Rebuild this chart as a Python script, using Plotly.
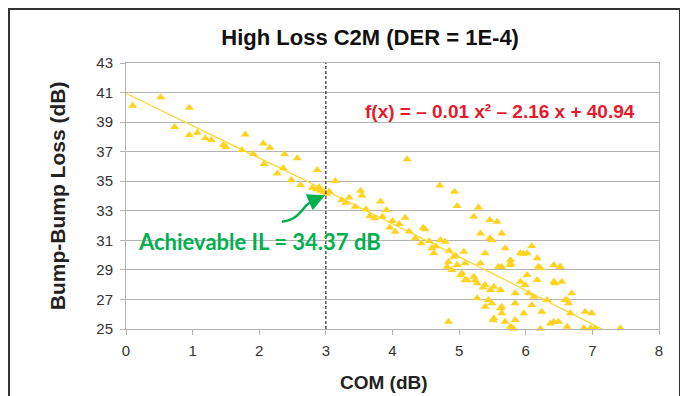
import plotly.graph_objects as go

# ---- data ----
com_db = [
    0.10, 0.52, 0.95, 0.73, 0.95, 1.07, 1.19, 1.28, 1.46, 1.50, 1.79, 1.74, 1.91, 2.06, 2.16, 2.07,
    2.38, 2.57, 2.36, 2.27, 2.48, 2.62, 2.87, 2.80, 2.86, 2.92, 2.97, 3.01, 2.90, 3.05,
    3.14, 3.24, 3.52, 3.54, 3.44, 3.82, 3.91, 3.66, 3.73, 4.19, 3.96, 4.04, 4.46, 4.49, 4.34, 4.43,
    4.59, 4.72, 4.79, 4.62, 4.22, 4.71, 4.93, 4.97,
    3.30, 3.60, 3.85, 4.10, 4.25, 4.55, 4.65, 4.85, 4.95, 3.35, 4.00,
    5.29, 5.22, 5.46, 5.57, 5.32, 5.46, 5.64, 5.49, 5.07, 4.92, 4.84, 4.82, 4.97, 4.89, 5.04, 5.09,
    5.32, 5.39, 5.69, 5.92, 6.02, 6.09, 5.77, 5.77, 5.59, 5.22, 5.27, 5.39, 5.47, 5.52, 5.62, 5.27,
    5.44, 5.49, 5.39, 5.62, 5.64, 5.52, 5.69, 5.77, 5.82, 5.84, 5.84, 5.97, 5.92, 5.99, 6.02, 6.04,
    6.12, 6.17, 6.19, 6.17, 6.22, 6.24, 6.22, 6.37, 6.42, 6.32, 6.42, 6.52, 6.44, 6.54, 6.59, 6.62,
    6.67, 6.69, 6.64, 6.89, 6.99, 6.87, 6.97, 7.04, 7.42, 4.84,
    5.02, 5.12, 5.24, 5.36, 5.64, 5.51, 5.79, 6.09, 6.49, 6.42, 5.96, 6.51, 5.64, 5.09, 5.84, 6.62, 5.77,
]
loss_db = [
    40.11, 40.68, 39.97, 38.67, 38.13, 38.28, 37.90, 37.79, 37.45, 37.31, 38.17, 37.11, 36.84, 37.56, 37.27, 36.16,
    36.82, 36.55, 35.87, 35.53, 35.08, 34.74, 35.76, 34.55, 34.45, 34.35, 34.25, 34.15, 34.60, 34.30,
    35.02, 33.73, 34.35, 34.03, 33.28, 33.63, 33.05, 32.65, 32.49, 32.52, 31.86, 31.58, 31.85, 31.75, 31.14, 30.80,
    30.46, 31.02, 30.91, 30.12, 36.49, 34.71, 34.29, 33.32,
    33.55, 33.10, 32.60, 32.10, 31.60, 30.95, 30.60, 30.30, 29.95, 33.90, 32.30,
    33.23, 32.60, 32.38, 32.26, 31.47, 31.14, 31.47, 31.02, 30.23, 29.89, 29.55, 29.22, 29.33, 28.99, 28.77, 28.32,
    29.45, 30.12, 30.46, 30.12, 30.12, 30.62, 29.67, 29.33, 29.22, 28.54, 28.09, 27.98, 27.64, 27.86, 27.64, 27.08,
    26.96, 26.74, 26.51, 26.40, 26.06, 25.72, 25.49, 25.16, 25.02, 25.61, 26.74, 26.06, 28.20, 27.98, 28.65, 27.42,
    27.19, 28.32, 29.22, 29.78, 29.11, 26.17, 25.02, 25.38, 25.49, 26.96, 29.33, 29.22, 28.09, 28.20, 26.96, 25.16,
    26.06, 27.42, 26.74, 26.17, 26.06, 25.05, 25.05, 25.05, 25.05, 25.49,
    28.65, 28.30, 28.30, 27.80, 26.50, 25.60, 25.07, 26.62, 25.49, 28.20, 30.10, 29.20, 29.20, 29.45, 27.42, 26.96, 29.45,
]
trend_coef = [-0.01, -2.16, 40.94]        # f(x) = a x^2 + b x + c
trend_x = [i * 0.05 for i in range(0, 149)]  # 0 .. 7.4
trend_y = [trend_coef[0] * x * x + trend_coef[1] * x + trend_coef[2] for x in trend_x]
com_target = 3
achievable_il = 34.37
x_ticks = [0, 1, 2, 3, 4, 5, 6, 7, 8]
y_ticks = [25, 27, 29, 31, 33, 35, 37, 39, 41, 43]

YELLOW = "#FFD320"
GREEN = "#00B050"
RED = "#E8192C"
SANS = "Liberation Sans, Arial, sans-serif"

fig = go.Figure()
fig.add_trace(go.Scatter(
    x=trend_x, y=trend_y, mode="lines",
    line=dict(color=YELLOW, width=1.2), hoverinfo="skip", showlegend=False,
))
fig.add_trace(go.Scatter(
    x=com_db, y=loss_db, mode="markers",
    marker=dict(symbol="triangle-up", size=8, color=YELLOW, line=dict(width=0)),
    cliponaxis=False, showlegend=False,
))

# dashed vertical reference line
fig.add_shape(type="line", xref="x", yref="y", x0=com_target, x1=com_target, y0=25, y1=43,
              line=dict(color="black", width=1, dash="3px,2px"))

# curved green arrow body
fig.add_shape(type="path", xref="x", yref="y",
              path="M 2.34,32.26 C 2.62,32.40 2.64,33.30 2.78,33.62",
              line=dict(color=GREEN, width=2.5))
# arrow head
fig.add_annotation(x=2.99, y=34.05, ax=2.76, ay=33.60, xref="x", yref="y", axref="x", ayref="y",
                   text="", showarrow=True, arrowhead=2, arrowsize=1.4, arrowwidth=2.5,
                   arrowcolor=GREEN, standoff=0)

fig.add_annotation(x=2.007, y=30.91, xref="x", yref="y", showarrow=False,
                   text="<b>Achievable IL = %.2f dB</b>" % achievable_il,
                   font=dict(family="Lato, Open Sans, sans-serif", size=22, color=GREEN))
fig.add_annotation(x=5.62, y=39.75, xref="x", yref="y", showarrow=False,
                   text="<b>f(x) = \u2013 0.01 x\u00b2 \u2013 2.16 x + 40.94</b>",
                   font=dict(family=SANS, size=19, color=RED))

# axis titles
fig.add_annotation(x=-0.129, y=0.50, xref="paper", yref="paper", showarrow=False, textangle=-90,
                   xanchor="center", yanchor="middle",
                   text="<b>Bump-Bump Loss (dB)</b>", font=dict(family=SANS, size=21, color="#222"))
fig.add_annotation(x=0.484, y=-0.203, xref="paper", yref="paper", showarrow=False,
                   xanchor="center", yanchor="middle",
                   text="<b>COM (dB)</b>", font=dict(family=SANS, size=19, color="#222"))

# frame border
fig.add_shape(type="rect", xref="paper", yref="paper", x0=-0.2195, x1=1.0394, y0=-0.3, y1=1.203,
              line=dict(color="#333333", width=2), layer="below")

fig.update_layout(
    width=680, height=388,
    margin=dict(l=118, r=29, t=55, b=67),
    paper_bgcolor="white", plot_bgcolor="white",
    title=dict(text="<b>High Loss C2M (DER = 1E-4)</b>", x=0.458, xanchor="center", xref="paper",
               y=1 - 29 / 388, yanchor="middle",
               font=dict(family=SANS, size=22, color="#111")),
    font=dict(family=SANS, size=14, color="#333"),
)
fig.update_xaxes(range=[0, 8], tickvals=x_ticks, showgrid=False, zeroline=False,
                 showline=True, linecolor="#b3b3b3", linewidth=1, mirror=True,
                 ticks="outside", ticklen=5, tickcolor="#b3b3b3", ticklabelstandoff=3,
                 tickfont=dict(family=SANS, size=15, color="#333"))
fig.update_yaxes(range=[25, 43], tickvals=y_ticks, showgrid=True, gridcolor="#b3b3b3", gridwidth=1,
                 zeroline=False, showline=True, linecolor="#b3b3b3", linewidth=1, mirror=True,
                 ticks="outside", ticklen=5, tickcolor="#b3b3b3", ticklabelstandoff=4,
                 tickfont=dict(family=SANS, size=15, color="#333"))

fig.write_html("out.html")
